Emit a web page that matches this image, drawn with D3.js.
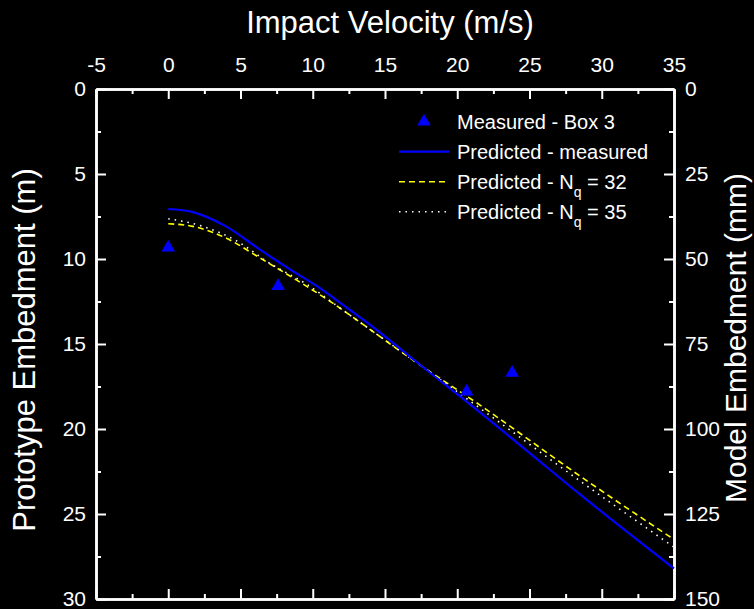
<!DOCTYPE html>
<html>
<head>
<meta charset="utf-8">
<script src="https://cdn.jsdelivr.net/npm/d3@7"></script>
<style>
  body { margin: 0; background: #000; }
  svg { display: block; font-family: "Liberation Sans", Arial, sans-serif; }
  .axis path, .axis line { stroke: #fff; }
  .axis text { fill: #fff; font-size: 21px; }
</style>
</head>
<body>
<script>
// measured points (velocity m/s, prototype embedment m)
var measuredV = [0, 7.6, 20.65, 23.8];
var measuredE = [9.33, 11.6, 17.8, 16.7];

// predicted - measured (blue solid)
var predMeasV = [0, 1.7, 4.0, 6.35, 8.65, 10.3, 12.1, 14.4, 17.1, 21.6, 25, 28.5, 35];
var predMeasE = [7.06, 7.24, 8.08, 9.45, 10.73, 11.6, 12.7, 14.15, 16.0, 19.04, 21.4, 23.85, 28.2];

// predicted - Nq = 32 (yellow dashed)
var pred32V = [0, 1.7, 4.0, 6.35, 8.65, 11.2, 13.5, 16.7, 21.6, 28.5, 35];
var pred32E = [7.93, 8.08, 8.77, 9.94, 11.12, 12.49, 13.86, 15.81, 18.61, 22.77, 26.5];

// predicted - Nq = 35 (white dotted)
var pred35V = [0, 2.4, 4.7, 7.0, 9.6, 12.35, 15.6, 22.0, 28.5, 35];
var pred35E = [7.63, 8.08, 8.92, 10.24, 11.5, 13.17, 15.13, 19.04, 23.06, 26.95];

var xTicks = [-5, 0, 5, 10, 15, 20, 25, 30, 35];
var yTicks = [0, 5, 10, 15, 20, 25, 30];
var yRightTicks = [0, 25, 50, 75, 100, 125, 150];

var width = 754, height = 609;

var svg = d3.select("body").append("svg")
    .attr("width", width)
    .attr("height", height);

svg.append("rect").attr("width", width).attr("height", height).attr("fill", "#000");

var x = d3.scaleLinear().domain([-5, 35]).range([96, 674]);
var y = d3.scaleLinear().domain([0, 30]).range([89, 599]);
var yR = d3.scaleLinear().domain([0, 150]).range([89, 599]);

// minor ticks halfway between majors
var xMinor = d3.range(-2.5, 35, 5);
var yMinor = d3.range(2.5, 30, 5);
var yRMinor = d3.range(12.5, 150, 25);

// plain hyphen for negatives, like the original
var fmt = function(d) { return String(d); };

function drawAxis(axis, tx, ty, cls) {
    var g = svg.append("g")
        .attr("class", "axis " + cls)
        .attr("transform", "translate(" + tx + "," + ty + ")")
        .call(axis);
    g.selectAll("line").attr("stroke-width", 2);
    g.select(".domain").attr("stroke-width", 2.5);
    return g;
}

// top axis with labels
drawAxis(d3.axisTop(x).tickValues(xTicks).tickSizeInner(-10).tickSizeOuter(0).tickPadding(17).tickFormat(fmt), 0, 89, "top");
drawAxis(d3.axisTop(x).tickValues(xMinor).tickSizeInner(-5).tickSizeOuter(0).tickFormat(""), 0, 89, "top-minor");

// bottom axis, no labels
drawAxis(d3.axisBottom(x).tickValues(xTicks).tickSizeInner(-10).tickSizeOuter(0).tickFormat(""), 0, 599, "bottom");
drawAxis(d3.axisBottom(x).tickValues(xMinor).tickSizeInner(-5).tickSizeOuter(0).tickFormat(""), 0, 599, "bottom-minor");

// left axis
drawAxis(d3.axisLeft(y).tickValues(yTicks).tickSizeInner(-10).tickSizeOuter(0).tickPadding(10).tickFormat(fmt), 96, 0, "left");
drawAxis(d3.axisLeft(y).tickValues(yMinor).tickSizeInner(-5).tickSizeOuter(0).tickFormat(""), 96, 0, "left-minor");

// right axis (model scale, mm)
drawAxis(d3.axisRight(yR).tickValues(yRightTicks).tickSizeInner(-10).tickSizeOuter(0).tickPadding(11).tickFormat(fmt), 674, 0, "right");
drawAxis(d3.axisRight(yR).tickValues(yRMinor).tickSizeInner(-5).tickSizeOuter(0).tickFormat(""), 674, 0, "right-minor");

// axis titles
svg.append("text")
    .attr("x", 390).attr("y", 33)
    .attr("text-anchor", "middle")
    .attr("fill", "#fff").attr("font-size", 31)
    .text("Impact Velocity (m/s)");

svg.append("text")
    .attr("transform", "translate(35,350) rotate(-90)")
    .attr("text-anchor", "middle")
    .attr("fill", "#fff").attr("font-size", 31)
    .text("Prototype Embedment (m)");

svg.append("text")
    .attr("transform", "translate(746,338) rotate(-90)")
    .attr("text-anchor", "middle")
    .attr("fill", "#fff").attr("font-size", 30)
    .text("Model Embedment (mm)");

// lines
var line = d3.line()
    .x(function(d) { return x(d[0]); })
    .y(function(d) { return y(d[1]); })
    .curve(d3.curveMonotoneX);

var plot = svg.append("g");

plot.append("path")
    .datum(d3.zip(pred32V, pred32E))
    .attr("fill", "none").attr("stroke", "#ffff00")
    .attr("stroke-width", 1.6).attr("stroke-dasharray", "6,4")
    .attr("d", line);

plot.append("path")
    .datum(d3.zip(pred35V, pred35E))
    .attr("fill", "none").attr("stroke", "#ffffff")
    .attr("stroke-width", 1.6).attr("stroke-dasharray", "1.5,5")
    .attr("d", line);

plot.append("path")
    .datum(d3.zip(predMeasV, predMeasE))
    .attr("fill", "none").attr("stroke", "#0000ff")
    .attr("stroke-width", 2.2)
    .attr("d", line);

var tri = d3.symbol().type(d3.symbolTriangle).size(80);

plot.selectAll(".pt")
    .data(d3.zip(measuredV, measuredE))
    .enter().append("path")
    .attr("class", "pt")
    .attr("transform", function(d) { return "translate(" + x(d[0]) + "," + y(d[1]) + ")"; })
    .attr("d", tri)
    .attr("fill", "#0000ff");

// legend
var legend = svg.append("g").attr("font-size", 20).attr("fill", "#fff");
var rows = [121.7, 151.7, 181.7, 211.7];

legend.append("path")
    .attr("transform", "translate(424," + rows[0] + ")")
    .attr("d", tri).attr("fill", "#0000ff");
legend.append("line").attr("x1", 399).attr("x2", 449).attr("y1", rows[1]).attr("y2", rows[1])
    .attr("stroke", "#0000ff").attr("stroke-width", 2.2);
legend.append("line").attr("x1", 399).attr("x2", 449).attr("y1", rows[2]).attr("y2", rows[2])
    .attr("stroke", "#ffff00").attr("stroke-width", 1.6).attr("stroke-dasharray", "6,4");
legend.append("line").attr("x1", 399).attr("x2", 449).attr("y1", rows[3]).attr("y2", rows[3])
    .attr("stroke", "#fff").attr("stroke-width", 1.6).attr("stroke-dasharray", "1.5,5");

legend.append("text").attr("x", 457).attr("y", rows[0] + 7).text("Measured - Box 3");
legend.append("text").attr("x", 457).attr("y", rows[1] + 7).text("Predicted - measured");

[["32", rows[2]], ["35", rows[3]]].forEach(function(r) {
    var t = legend.append("text").attr("x", 457).attr("y", r[1] + 7);
    t.append("tspan").text("Predicted - N");
    t.append("tspan").attr("dy", 8).attr("font-size", 14).text("q");
    t.append("tspan").attr("dy", -8).text(" = " + r[0]);
});
</script>
</body>
</html>
